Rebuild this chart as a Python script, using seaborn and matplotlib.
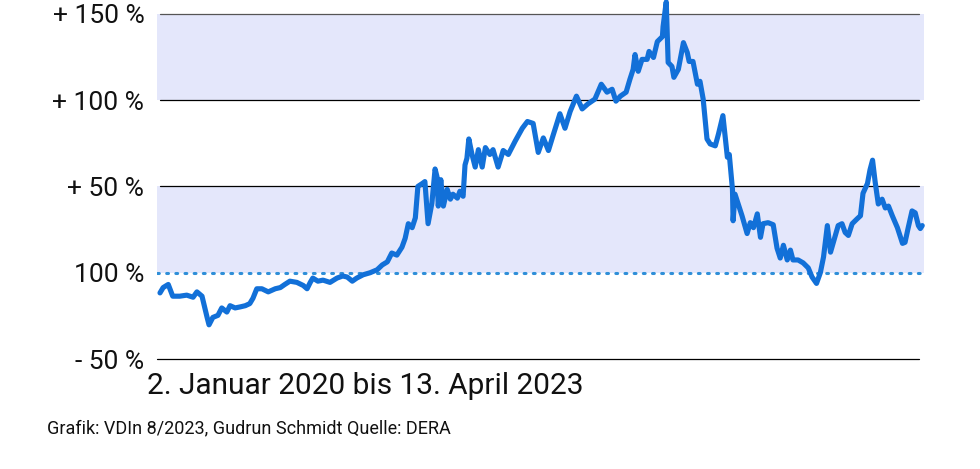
import numpy as np
import pandas as pd
import matplotlib
matplotlib.use("Agg")
import matplotlib.pyplot as plt
import seaborn as sns

# days since 2 Jan 2020 and change in percent
days = [0, 5, 13, 20, 31, 42, 52, 58, 66, 74, 77, 83, 91, 97, 105, 110, 118, 126, 134, 141,
        146, 152, 160, 170, 181, 189, 196, 204, 215, 225, 231, 236, 240, 248, 256, 267, 278, 287, 294, 302,
        309, 319, 330, 341, 349, 357, 364, 372, 380, 385, 390, 396, 401, 405, 412, 416, 421, 427, 432, 435,
        437, 441, 445, 451, 456, 460, 467, 471, 476, 479, 482, 485, 490, 495, 500, 506, 511, 518, 523, 531,
        539, 547, 558, 569, 577, 586, 594, 602, 610, 617, 628, 636, 644, 654, 663, 672, 683, 693, 702, 710,
        716, 723, 732, 738, 743, 746, 751, 757, 765, 768, 775, 781, 789, 790, 795, 798, 804, 807, 814, 822,
        828, 831, 837, 844, 848, 853, 859, 864, 872, 877, 884, 888, 891, 894, 899, 900, 903, 908, 914, 922,
        927, 932, 938, 943, 947, 955, 963, 969, 974, 979, 985, 990, 994, 1002, 1010, 1018, 1024, 1031, 1037, 1042,
        1048, 1053, 1057, 1065, 1071, 1076, 1081, 1087, 1095, 1100, 1104, 1111, 1115, 1119, 1123, 1128, 1134, 1139, 1144, 1150,
        1158, 1166, 1170, 1175, 1181, 1186, 1191, 1194, 1197]
change = [-11.7, -8.6, -6.8, -13.6, -13.6, -13.0, -14.2, -11.1, -13.6, -25.9, -30.2, -25.9, -24.7, -20.4, -22.8, -19.1, -20.4, -19.8, -19.1, -17.9,
          -14.8, -9.3, -9.3, -11.1, -9.3, -8.6, -6.8, -4.9, -5.6, -7.4, -9.3, -5.6, -3.1, -4.9, -4.3, -5.6, -3.1, -1.9, -2.5, -4.9,
          -3.1, -1.2, 0.0, 1.7, 4.5, 6.3, 11.4, 10.2, 14.8, 19.9, 28.4, 26.1, 31.8, 50.0, 51.7, 52.8, 28.4, 40.3, 60.1, 55.6,
          38.6, 53.9, 38.6, 48.3, 42.6, 45.5, 43.2, 47.2, 44.3, 62.4, 66.3, 77.5, 68.5, 61.2, 71.3, 61.2, 72.5, 68.5, 71.3, 61.2,
          70.8, 68.5, 76.4, 83.7, 87.6, 86.5, 69.7, 78.1, 70.8, 79.2, 92.1, 83.7, 93.3, 102.3, 94.9, 97.8, 100.6, 109.2, 104.6, 106.3,
          99.4, 102.3, 104.6, 112.1, 117.8, 126.4, 116.7, 123.6, 123.6, 128.2, 124.7, 133.9, 136.8, 142.5, 156.9, 121.8, 119.5, 113.2, 117.8, 133.3,
          127.6, 122.4, 122.4, 109.2, 110.9, 100.6, 77.5, 74.6, 73.5, 80.3, 91.0, 77.5, 66.9, 68.5, 48.3, 30.1, 45.5, 39.8, 33.0, 22.7,
          29.0, 26.1, 34.1, 20.5, 28.4, 29.0, 27.8, 14.2, 8.5, 15.9, 7.4, 13.1, 7.4, 7.4, 5.7, 2.8, -2.5, -6.2, 0.0, 9.1,
          27.3, 11.9, 17.0, 27.3, 28.4, 23.3, 21.6, 28.4, 31.3, 33.0, 46.0, 51.7, 59.6, 65.2, 52.8, 39.8, 42.6, 37.5, 38.6, 33.0,
          26.1, 17.0, 17.6, 26.1, 35.8, 34.7, 27.3, 25.6, 27.3]

tick_values = [150, 100, 50, 0, -50]
tick_labels = ["+ 150 %", "+ 100 %", "+ 50 %", "100 %", "- 50 %"]
bands = [(0, 50), (100, 150)]
title = "2. Januar 2020 bis 13. April 2023"
credit = "Grafik: VDIn 8/2023, Gudrun Schmidt Quelle: DERA"

start = pd.Timestamp("2020-01-02")
df = pd.DataFrame({"date": start + pd.to_timedelta(days, unit="D"), "change": change})

sns.set_style("white")
plt.rcParams["font.family"] = ["Roboto", "DejaVu Sans"]

fig = plt.figure(figsize=(9.8, 4.69), dpi=100)
ax = fig.add_axes([0.160, 0.2345, 0.783, 0.7655])

band_col = "#e4e7fb"
for lo, hi in bands:
    ax.axhspan(lo, hi, color=band_col, lw=0, zorder=0)

# grid lines; the bottom one sits on the axes edge so keep it unclipped
for v in [150, 100, 50, -50]:
    ax.axhline(v, color="#555555" if v == 150 else "black", lw=0.9, zorder=1,
               xmin=0.0 if v == -50 else 0.004, xmax=0.993, clip_on=False)
ax.axhline(0, color="#2f8fd8", lw=2.2, ls=(0, (0.6, 2.4)), dash_capstyle="round", zorder=1)

sns.lineplot(data=df, x="date", y="change", ax=ax, color="#1270d8", lw=3.7,
             zorder=3, clip_on=False)

ax.set_xlim(start - pd.Timedelta(days=5), start + pd.Timedelta(days=1200))
ax.set_ylim(-50, 158)
ax.set_yticks(tick_values)
ax.set_yticklabels(tick_labels, fontsize=19, color="#111111")
ax.tick_params(axis="y", length=0, pad=9)
ax.set_xticks([])
ax.set_xlabel("")
ax.set_ylabel("")
for s in ax.spines.values():
    s.set_visible(False)
ax.patch.set_alpha(0)

fig.text(147 / 980, 1 - 386 / 469, title, fontsize=21.5, va="center", ha="left", color="#111111")
fig.text(47 / 980, 1 - 428 / 469, credit, fontsize=13, va="center", ha="left", color="#111111")

fig.savefig("out.png", dpi=100)
